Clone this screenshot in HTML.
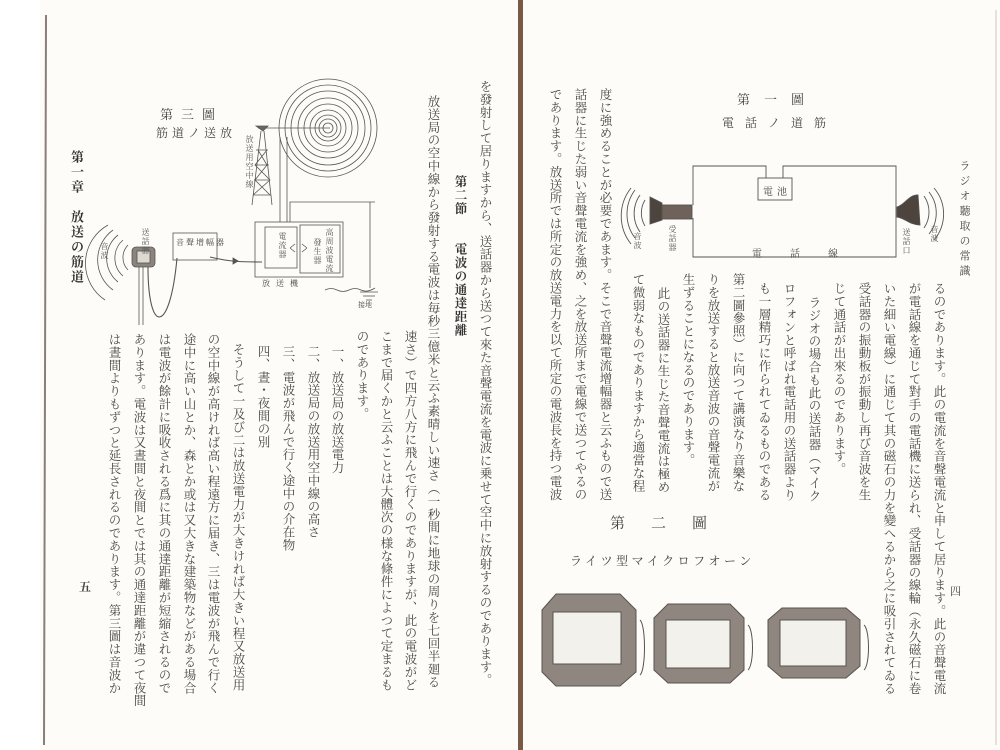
<!DOCTYPE html>
<html><head><meta charset="utf-8">
<style>
html,body{margin:0;padding:0;background:#fff;}
#pg{position:relative;width:1000px;height:750px;overflow:hidden;background:#fdfcf8;}
.v{position:absolute;writing-mode:vertical-rl;font-family:"Liberation Serif","Noto Serif CJK SC","Noto Sans CJK JP",serif;font-size:12.5px;line-height:14px;letter-spacing:0.4px;color:#4a4642;white-space:nowrap;}
.b{font-weight:bold;color:#333;}
.s{font-size:8px;line-height:9px;letter-spacing:1px;color:#555;}
.h{position:absolute;font-family:"Liberation Serif","Noto Serif CJK SC",serif;color:#444;white-space:nowrap;}
</style></head><body>
<div id="pg">
<svg width="1000" height="750" style="position:absolute;left:0;top:0">
 <!-- page edges -->
 <rect x="0" y="0" width="40" height="750" fill="#fff"/>
 <line x1="46" y1="15" x2="44" y2="745" stroke="#8a7f78" stroke-width="2"/>
 <rect x="518" y="0" width="5" height="750" fill="#7a5a45"/>
 <line x1="996" y1="10" x2="996" y2="745" stroke="#cfc6bd" stroke-width="1"/>

 <!-- Figure 3 -->
 <g stroke="#555" fill="none" stroke-width="0.8">
  <circle cx="328" cy="128" r="5"/><circle cx="328" cy="128" r="9"/><circle cx="328" cy="128" r="13"/>
  <circle cx="328" cy="128" r="18"/><circle cx="328" cy="128" r="24"/><circle cx="328" cy="128" r="30"/>
  <circle cx="328" cy="128" r="37"/><circle cx="328" cy="128" r="43"/><circle cx="328" cy="128" r="49"/>
  <line x1="258" y1="128" x2="330" y2="128"/>
  <path d="M256,126 L268,126 L263,131 Z" fill="#666"/>
  <path d="M261,131 L252,205 M264,131 L272,205 M256,150 L268,150 M255,165 L269,165 M254,180 L270,180 M253,195 L271,195 M258,150 L267,165 L255,180 L270,195 M267,150 L255,165 L270,180 L253,195"/>
  <line x1="280" y1="137" x2="280" y2="222"/>
  <line x1="287" y1="137" x2="287" y2="222"/>
  <path d="M290,222 L290,202 L375,202"/>
  <path d="M370,202 L370,288"/>
  <rect x="255" y="222" width="88" height="55"/>
  <rect x="265" y="227" width="32" height="41"/>
  <rect x="300" y="225" width="40" height="48"/>
  <path d="M290,248 l5,-4 M290,248 l5,4 M307,248 l-5,-4 M307,248 l-5,4"/>
  <path d="M325,290 q6,-3 12,0 t12,0 t12,0 t14,-2" />
  <line x1="360" y1="292" x2="378" y2="292"/><line x1="363" y1="296" x2="375" y2="296"/><line x1="366" y1="300" x2="372" y2="300"/>
  <!-- mic -->
  <rect x="132" y="247" width="23" height="20" rx="4" fill="#8c837b"/>
  <rect x="137" y="251" width="13" height="12" fill="#ddd8d0"/>
  <line x1="139" y1="267" x2="139" y2="325"/><line x1="143" y1="267" x2="143" y2="325"/>
  <path d="M128,245 A18,18 0 0 0 128,270 M123,240 A24,24 0 0 0 123,276 M118,235 A30,30 0 0 0 118,282 M113,230 A37,37 0 0 0 113,290 M108,225 A44,44 0 0 0 105,300"/>
  <path d="M148,267 C148,335 170,335 177,258" stroke-width="1.1"/>
  <rect x="173" y="233" width="44" height="27"/>
  <path d="M210,257 C230,262 245,262 262,262" stroke-width="1.1"/>
  <path d="M238,261 l-5,-3 l0,6 z" fill="#555"/>
 </g>
 <!-- Figure 1 -->
 <g stroke="#555" fill="none" stroke-width="0.9">
  <path d="M693,205 L693,166 L766,166 L766,178 M783,178 L783,166 L896,166 L896,257 L693,257 L693,218"/>
  <rect x="758" y="178" width="34" height="22"/>
  <rect x="662" y="205" width="30" height="14" fill="#6e625a"/>
  <path d="M662,203 L650,197 L650,224 L662,220 Z" fill="#4e443e"/>
  <path d="M645,200 A25,25 0 0 0 645,226 M640,195 A32,32 0 0 0 640,232 M635,190 A40,40 0 0 0 635,238 M631,188 A45,45 0 0 0 631,244"/>
  <path d="M897,207 C905,205 908,195 918,195 L920,225 C910,225 905,218 897,217 Z" fill="#4e443e"/>
  <path d="M924,196 A28,28 0 0 1 924,228 M929,192 A34,34 0 0 1 929,234 M934,188 A40,40 0 0 1 934,240"/>
 </g>
 <!-- Figure 2 microphones -->
 <g stroke="#5a524c" stroke-width="1">
  <polygon points="556,594 620,594 636,610 636,672 620,686 556,686 542,672 542,610" fill="#8f867f"/>
  <rect x="553" y="612" width="68" height="52" fill="#f3f1ec"/>
  <polygon points="668,604 730,604 744,618 744,670 730,683 668,683 654,670 654,618" fill="#8f867f"/>
  <rect x="666" y="620" width="64" height="48" fill="#f3f1ec"/>
  <polygon points="782,608 846,608 860,620 860,666 846,678 782,678 768,666 768,620" fill="#8f867f"/>
  <rect x="780" y="620" width="66" height="46" fill="#f3f1ec"/>
  <path d="M640,620 c6,5 6,50 0,55 M748,625 c6,5 6,40 0,45 M864,625 c6,5 6,40 0,45" fill="none"/>
 </g>
</svg>

<!-- chapter title / running head -->
<div class="v b" style="left:69px;top:150px;font-size:13px;letter-spacing:2px">第一章　放送の筋道</div>
<div class="v" style="left:957px;top:160px;font-size:11px;letter-spacing:4px">ラジオ聽取の常識</div>
<div class="h" style="left:79px;top:578px;font-size:12px;font-weight:bold">五</div>
<div class="h" style="left:950px;top:583px;font-size:11px">四</div>

<!-- Figure 3 labels -->
<div class="h" style="left:160px;top:104px;font-size:13px;letter-spacing:8px">第三圖</div>
<div class="h" style="left:156px;top:124px;font-size:12px;letter-spacing:4px">筋道ノ送放</div>
<div class="v s" style="left:245px;top:135px">放送用空中線</div>
<div class="v s" style="left:141px;top:228px">送話器</div>
<div class="v s" style="left:100px;top:242px">音波</div>
<div class="h" style="left:176px;top:237px;font-size:8px;letter-spacing:2px">音聲增幅器</div>
<div class="v s" style="left:278px;top:232px">電流器</div>
<div class="v s" style="left:325px;top:228px">高周波電流</div>
<div class="v s" style="left:313px;top:238px">發生器</div>
<div class="h" style="left:262px;top:278px;font-size:8px;letter-spacing:6px">放送機</div>
<div class="h" style="left:358px;top:300px;font-size:7px">接地</div>

<!-- Figure 1 labels -->
<div class="h" style="left:737px;top:89px;font-size:13px;letter-spacing:14px">第一圖</div>
<div class="h" style="left:722px;top:114px;font-size:12px;letter-spacing:11px">電話ノ道筋</div>
<div class="h" style="left:763px;top:183px;font-size:10px;letter-spacing:4px">電池</div>
<div class="h" style="left:752px;top:245px;font-size:10px;letter-spacing:28px">電話線</div>
<div class="v s" style="left:668px;top:225px">受話器</div>
<div class="v s" style="left:633px;top:232px">音波</div>
<div class="v s" style="left:902px;top:228px">送話口</div>
<div class="v s" style="left:930px;top:225px">音波</div>

<!-- Figure 2 labels -->
<div class="h" style="left:610px;top:512px;font-size:15px;letter-spacing:26px">第二圖</div>
<div class="h" style="left:570px;top:552px;font-size:12px;letter-spacing:3.5px">ライツ型マイクロフオーン</div>

<!-- Left page text -->
<div class="v" style="left:478px;top:80px">を發射して居りますから、送話器から送つて來た音聲電流を電波に乗せて空中に放射するのであります。</div>
<div class="v b" style="left:453px;top:175px;letter-spacing:1px">第二節　　電波の通達距離</div>
<div class="v" style="left:426px;top:95px">放送局の空中線から發射する電波は毎秒三億米と云ふ素晴しい速さ（一秒間に地球の周りを七回半廻る</div>
<div class="v" style="left:403px;top:330px">速さ）で四方八方に飛んで行くのでありますが、此の電波がど</div>
<div class="v" style="left:379px;top:330px">こまで届くかと云ふことは大體次の様な條件によつて定まるも</div>
<div class="v" style="left:355px;top:330px">のであります。</div>
<div class="v" style="left:330px;top:345px">一、放送局の放送電力</div>
<div class="v" style="left:306px;top:345px">二、放送局の放送用空中線の高さ</div>
<div class="v" style="left:281px;top:345px">三、電波が飛んで行く途中の介在物</div>
<div class="v" style="left:256px;top:345px">四、晝・夜間の別</div>
<div class="v" style="left:231px;top:343px">そうして一及び二は放送電力が大きければ大きい程又放送用</div>
<div class="v" style="left:206px;top:333px">の空中線が高ければ高い程遠方に届き、三は電波が飛んで行く</div>
<div class="v" style="left:182px;top:333px">途中に高い山とか、森とか或は又大きな建築物などがある場合</div>
<div class="v" style="left:157px;top:333px">は電波が餘計に吸收される爲に其の通達距離が短縮されるので</div>
<div class="v" style="left:132px;top:333px">あります。電波は又晝間と夜間とでは其の通達距離が違つて夜間</div>
<div class="v" style="left:107px;top:333px">は晝間よりもずつと延長されるのであります。第三圖は音波か</div>

<!-- Right page text -->
<div class="v" style="left:598px;top:88px">度に強めることが必要であます。そこで音聲電流增幅器と云ふもので送</div>
<div class="v" style="left:573px;top:88px">話器に生じた弱い音聲電流を強め、之を放送所まで電線で送つてやるの</div>
<div class="v" style="left:548px;top:88px">であります。放送所では所定の放送電力を以て所定の電波長を持つ電波</div>
<div class="v" style="left:731px;top:273px">第二圖參照）に向つて講演なり音樂な</div>
<div class="v" style="left:706px;top:273px">りを放送すると放送音波の音聲電流が</div>
<div class="v" style="left:681px;top:273px">生ずることになるのであります。</div>
<div class="v" style="left:656px;top:287px">此の送話器に生じた音聲電流は極め</div>
<div class="v" style="left:631px;top:273px">て微弱なものでありますから適當な程</div>
<div class="v" style="left:932px;top:282px">るのであります。此の電流を音聲電流と申して居ります。此の音聲電流</div>
<div class="v" style="left:907px;top:282px">が電話線を通じて對手の電話機に送られ、受話器の線輪（永久磁石に卷</div>
<div class="v" style="left:882px;top:282px">いた細い電線）に通じて其の磁石の力を變へるから之に吸引されてゐる</div>
<div class="v" style="left:857px;top:282px">受話器の振動板が振動し再び音波を生</div>
<div class="v" style="left:832px;top:282px">じて通話が出來るのであります。</div>
<div class="v" style="left:807px;top:296px">ラジオの場合も此の送話器（マイク</div>
<div class="v" style="left:782px;top:282px">ロフォンと呼ばれ電話用の送話器より</div>
<div class="v" style="left:757px;top:282px">も一層精巧に作られてゐるものである</div>
</div>
</body></html>
